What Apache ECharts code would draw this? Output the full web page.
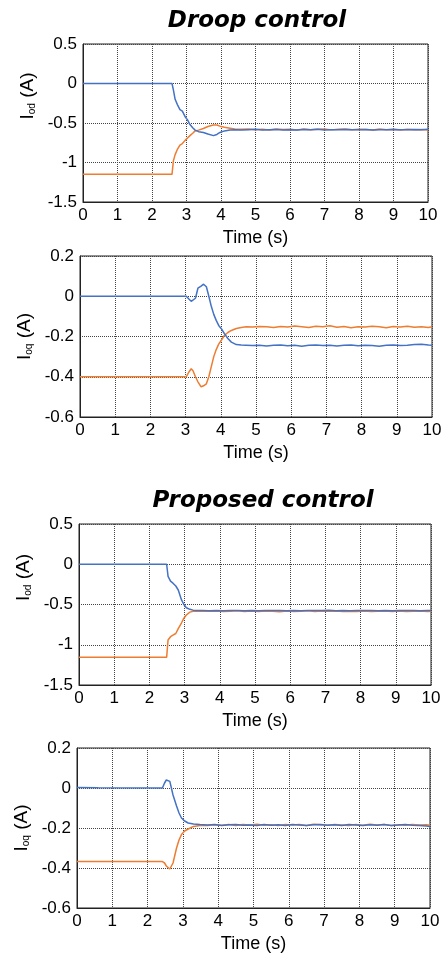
<!DOCTYPE html>
<html>
<head>
<meta charset="utf-8">
<script src="https://cdn.jsdelivr.net/npm/echarts@6/dist/echarts.min.js"></script>
<style>
html,body{margin:0;padding:0;background:#fff;}
#c{width:446px;height:956px;}
</style>
</head>
<body>
<div id="c"></div>
<script>
// ---- Data ----
const titles = ['Droop control', 'Proposed control'];
const xTicks = [0,1,2,3,4,5,6,7,8,9,10];

// Plot 1: I_od, droop control
const t1 = [0, 2.58, 2.62, 2.67, 2.74, 2.81, 2.88, 2.96, 3.03, 3.1, 3.18, 3.25, 3.35, 3.49, 3.62, 3.78, 3.88, 3.97, 4.1, 4.26, 4.4,
  4.6,4.8,5,5.2,5.4,5.6,5.8,6,6.2,6.4,6.6,6.8,7,7.2,7.4,7.6,7.8,8,8.2,8.4,8.6,8.8,9,9.2,9.4,9.6,9.8,10];
const blue1 = [0, 0, -0.08, -0.2, -0.27, -0.33, -0.35, -0.42, -0.46, -0.52, -0.56, -0.59, -0.61, -0.62, -0.64, -0.66, -0.645, -0.62, -0.6, -0.59, -0.585,
  -0.59, -0.585, -0.58, -0.59, -0.585, -0.582, -0.588, -0.585, -0.59, -0.583, -0.586, -0.58, -0.588, -0.584, -0.586, -0.582, -0.587, -0.585, -0.583, -0.588, -0.584, -0.586, -0.582, -0.585, -0.587, -0.583, -0.585, -0.58];
const orange1 = [-1.15, -1.15, -0.98, -0.9, -0.83, -0.78, -0.76, -0.72, -0.69, -0.66, -0.63, -0.6, -0.59, -0.57, -0.545, -0.525, -0.525, -0.54, -0.555, -0.565, -0.575,
  -0.58, -0.575, -0.585, -0.578, -0.59, -0.575, -0.583, -0.578, -0.588, -0.576, -0.584, -0.579, -0.575, -0.587, -0.58, -0.577, -0.586, -0.579, -0.583, -0.59, -0.577, -0.584, -0.58, -0.588, -0.578, -0.585, -0.582, -0.59];

// Plot 2: I_oq, droop control
const t2 = [0, 3.02, 3.1, 3.16, 3.21, 3.28, 3.35, 3.44, 3.51, 3.59, 3.66, 3.73, 3.8, 3.87, 3.94, 4.01, 4.1, 4.2, 4.3, 4.44, 4.58, 4.72,
  4.9,5.1,5.3,5.5,5.7,5.9,6.1,6.3,6.5,6.7,6.9,7.1,7.3,7.5,7.7,7.9,8.1,8.3,8.5,8.7,8.9,9.1,9.3,9.5,9.7,9.9,10];
const blue2 = [0, 0, -0.015, -0.025, -0.032, -0.01, 0.04, 0.05, 0.06, 0.047, 0.0, -0.05, -0.09, -0.12, -0.145, -0.16, -0.185, -0.21, -0.228, -0.24, -0.242, -0.243,
  -0.245, -0.243, -0.247, -0.244, -0.242, -0.246, -0.243, -0.248, -0.244, -0.242, -0.245, -0.243, -0.247, -0.244, -0.242, -0.246, -0.243, -0.245, -0.248, -0.244, -0.242, -0.245, -0.243, -0.24, -0.238, -0.242, -0.243];
const orange2 = [-0.4, -0.4, -0.375, -0.36, -0.37, -0.4, -0.425, -0.45, -0.445, -0.435, -0.4, -0.35, -0.3, -0.265, -0.238, -0.22, -0.195, -0.18, -0.17, -0.16, -0.155, -0.152,
  -0.153, -0.15, -0.152, -0.155, -0.15, -0.153, -0.148, -0.151, -0.155, -0.149, -0.152, -0.147, -0.154, -0.15, -0.156, -0.151, -0.153, -0.149, -0.152, -0.156, -0.15, -0.153, -0.149, -0.154, -0.151, -0.155, -0.152];

// Plot 3: I_od, proposed control
const t3 = [0, 2.49, 2.53, 2.6, 2.67, 2.75, 2.82, 2.91, 2.98, 3.05, 3.15, 3.24, 3.35, 3.5,
  3.7,3.9,4.1,4.3,4.5,4.7,4.9,5.1,5.3,5.5,5.7,5.9,6.1,6.3,6.5,6.7,6.9,7.1,7.3,7.5,7.7,7.9,8.1,8.3,8.5,8.7,8.9,9.1,9.3,9.5,9.7,9.9,10];
const blue3 = [0, 0, -0.15, -0.21, -0.235, -0.27, -0.32, -0.44, -0.5, -0.54, -0.56, -0.57, -0.575, -0.575,
  -0.577, -0.574, -0.578, -0.575, -0.573, -0.577, -0.575, -0.579, -0.574, -0.576, -0.573, -0.577, -0.575, -0.578, -0.574, -0.576, -0.575, -0.572, -0.577, -0.575, -0.578, -0.574, -0.576, -0.573, -0.577, -0.575, -0.578, -0.574, -0.576, -0.575, -0.577, -0.574, -0.576];
const orange3 = [-1.155, -1.155, -0.94, -0.9, -0.88, -0.86, -0.8, -0.73, -0.67, -0.63, -0.595, -0.585, -0.585, -0.583,
  -0.585, -0.58, -0.587, -0.583, -0.579, -0.588, -0.582, -0.586, -0.58, -0.585, -0.589, -0.581, -0.586, -0.583, -0.579, -0.587, -0.582, -0.585, -0.58, -0.588, -0.583, -0.586, -0.581, -0.587, -0.583, -0.58, -0.586, -0.582, -0.588, -0.584, -0.581, -0.586, -0.583];

// Plot 4: I_oq, proposed control
const t4 = [0, 0.6, 2.42, 2.48, 2.53, 2.58, 2.63, 2.72, 2.82, 2.89, 2.96, 3.05, 3.15, 3.3, 3.48,
  3.7,3.9,4.1,4.3,4.5,4.7,4.9,5.1,5.3,5.5,5.7,5.9,6.1,6.3,6.5,6.7,6.9,7.1,7.3,7.5,7.7,7.9,8.1,8.3,8.5,8.7,8.9,9.1,9.3,9.5,9.7,9.9,10];
const blue4 = [0.003, 0.001, 0.0, 0.025, 0.04, 0.042, 0.033, -0.035, -0.09, -0.125, -0.15, -0.165, -0.175, -0.18, -0.183,
  -0.185, -0.183, -0.187, -0.184, -0.182, -0.186, -0.185, -0.188, -0.183, -0.186, -0.184, -0.187, -0.183, -0.185, -0.188, -0.184, -0.182, -0.186, -0.184, -0.187, -0.183, -0.185, -0.188, -0.184, -0.186, -0.183, -0.187, -0.185, -0.182, -0.186, -0.188, -0.19, -0.192];
const orange4 = [-0.368, -0.368, -0.368, -0.375, -0.39, -0.4, -0.405, -0.375, -0.3, -0.26, -0.233, -0.215, -0.205, -0.192, -0.187,
  -0.188, -0.184, -0.186, -0.182, -0.187, -0.183, -0.185, -0.181, -0.186, -0.184, -0.188, -0.182, -0.185, -0.183, -0.187, -0.181, -0.184, -0.186, -0.182, -0.185, -0.188, -0.183, -0.186, -0.181, -0.185, -0.183, -0.187, -0.184, -0.186, -0.182, -0.185, -0.184, -0.186];

const yRanges = [[-1.5, 0.5, 0.5], [-0.6, 0.2, 0.2], [-1.5, 0.5, 0.5], [-0.6, 0.2, 0.2]];
const yNames = ['od', 'oq', 'od', 'oq'];

// ---- Layout / styling ----
const BLUE = '#4472C4', ORANGE = '#ED7D31';
const grids = [
  {left: 83, top: 44, width: 345, height: 158},
  {left: 80, top: 256, width: 352, height: 161},
  {left: 79, top: 524, width: 352, height: 161},
  {left: 77, top: 748, width: 353, height: 160}
];
const nameShift = [54, 0, 54, 0];
const nameGaps = [34, 41, 31, 41];
const FONT = '"Liberation Sans", Arial, sans-serif';

function pairs(t, v) { return t.map((x, i) => [x, v[i]]); }
const series = [];
[[t1, blue1, orange1], [t2, blue2, orange2], [t3, blue3, orange3], [t4, blue4, orange4]].forEach((d, i) => {
  series.push({type: 'line', xAxisIndex: i, yAxisIndex: i, data: pairs(d[0], d[1]), showSymbol: false, symbol: 'none',
    lineStyle: {color: BLUE, width: 1.5}, itemStyle: {color: BLUE}, animation: false, z: 3});
  series.push({type: 'line', xAxisIndex: i, yAxisIndex: i, data: pairs(d[0], d[2]), showSymbol: false, symbol: 'none',
    lineStyle: {color: ORANGE, width: 1.5}, itemStyle: {color: ORANGE}, animation: false, z: 2});
});

const option = {
  backgroundColor: '#fff',
  animation: false,
  title: [
    {text: titles[0], left: 252, top: 5, textAlign: 'center',
     textStyle: {fontFamily: '"DejaVu Sans"', fontWeight: 'bold', fontStyle: 'italic', fontSize: 23, color: '#000'}},
    {text: titles[1], left: 258, top: 485, textAlign: 'center',
     textStyle: {fontFamily: '"DejaVu Sans"', fontWeight: 'bold', fontStyle: 'italic', fontSize: 23, color: '#000'}}
  ],
  grid: grids.map(g => Object.assign({show: true, borderColor: '#222', borderWidth: 1, containLabel: false}, g)),
  xAxis: grids.map((g, i) => ({
    type: 'value', gridIndex: i, min: 0, max: 10, interval: 1,
    name: 'Time (s)', nameLocation: 'middle', nameGap: 27,
    nameTextStyle: {fontFamily: FONT, fontSize: 18, color: '#000'},
    axisLine: {show: true, onZero: false, lineStyle: {color: '#222', width: 1}},
    axisTick: {show: false},
    axisLabel: {fontFamily: FONT, fontSize: 17, color: '#000', margin: 5},
    splitLine: {show: true, lineStyle: {color: '#444', type: [1, 1], width: 1}}
  })),
  yAxis: grids.map((g, i) => ({
    type: 'value', gridIndex: i, min: yRanges[i][0], max: yRanges[i][1], interval: yRanges[i][2],
    name: '{i|I}{s|' + yNames[i] + '}{i| (A)}', nameLocation: 'middle', nameGap: nameGaps[i], nameRotate: 90,
    nameTextStyle: {
      fontFamily: FONT, color: '#000', padding: [0, 0, 0, nameShift[i]],
      rich: {
        i: {fontFamily: FONT, fontSize: 19, color: '#000', lineHeight: 24},
        s: {fontFamily: FONT, fontSize: 10, color: '#000', lineHeight: 24, padding: [9, 0, 0, 0]}
      }
    },
    axisLine: {show: true, onZero: false, lineStyle: {color: '#222', width: 1}},
    axisTick: {show: false},
    axisLabel: {fontFamily: FONT, fontSize: 17, color: '#000', margin: 6},
    splitLine: {show: true, lineStyle: {color: '#444', type: [1, 1], width: 1}}
  })),
  series: series
};
const chart = echarts.init(document.getElementById('c'), null, {renderer: 'canvas'});
chart.setOption(option);
</script>
</body>
</html>
